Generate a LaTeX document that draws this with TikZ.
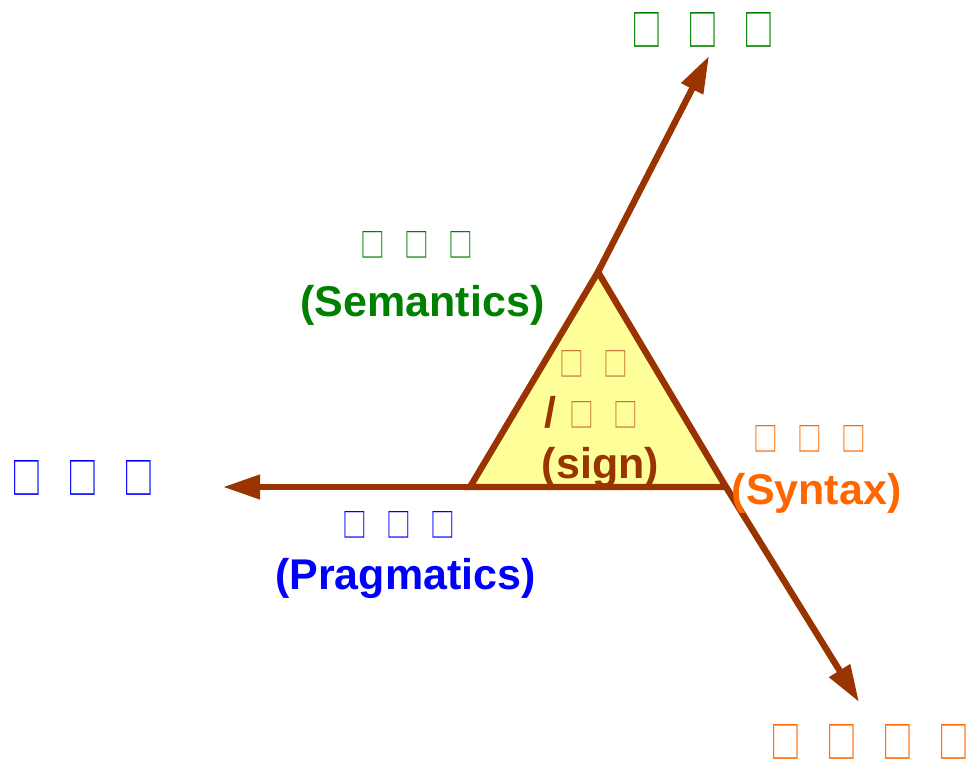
\documentclass[tikz,border=0pt]{standalone}
\usepackage{fontspec}
\setmainfont{Liberation Sans}
\newfontfamily\cjkbox{Noto Sans CJK SC}
\usepackage{graphicx}
\usetikzlibrary{arrows.meta}
\definecolor{sbrown}{HTML}{993300}
\definecolor{sfill}{HTML}{FFFF99}
\definecolor{sgreen}{HTML}{008000}
\definecolor{sblue}{HTML}{0000FF}
\definecolor{sorange}{HTML}{FF6600}
\definecolor{stan}{HTML}{C8773A}
\newcommand\tf[2]{\resizebox{#1}{#2}{\cjkbox □}}
\newcommand\bigtf{\tf{23pt}{25.5pt}}
\newcommand\smalltf{\tf{18.5pt}{19.5pt}}
\tikzset{
  lbl/.style={inner sep=0pt, anchor=base, font=\fontsize{32.25}{38}\selectfont\bfseries},
  tofu/.style={inner sep=0pt, anchor=center},
  axis/.style={draw=sbrown, line width=4.8pt, -{Triangle[length=27.75pt,width=17.5pt]}},
}
\begin{document}
\begin{tikzpicture}[x=0.75pt,y=-0.75pt]
\useasboundingbox (0,0) rectangle (973,763);
% triangle corners and arrow ends
\coordinate (A) at (598,272);
\coordinate (L) at (470,487);
\coordinate (R) at (726,487);
\coordinate (TT) at (709,56);
\coordinate (TL) at (223,487);
\coordinate (TB) at (859,702);
\draw[sbrown, line width=4.8pt, fill=sfill, line join=miter] (A) -- (L) -- (R) -- cycle;
\draw[axis] (A) -- (TT);
\draw[axis] (L) -- (TL);
\draw[axis] (R) -- (TB);
% labels
\node[tofu, text=sgreen] (semz) at (416.5,245) {\smalltf\hspace{14.5pt}\smalltf\hspace{14.5pt}\smalltf};
\node[lbl, text=sgreen] (sem) at (422.5,316) {(Semantics)};
\node[tofu, text=sblue] (prgz) at (399,525) {\smalltf\hspace{14.5pt}\smalltf\hspace{14.5pt}\smalltf};
\node[lbl, text=sblue] (prg) at (405.5,589) {(Pragmatics)};
\node[tofu, text=sorange] (synz) at (810,439) {\smalltf\hspace{14.5pt}\smalltf\hspace{14.5pt}\smalltf};
\node[lbl, text=sorange] (syn) at (816.5,504) {(Syntax)};
\node[tofu, text=stan] (sgz1) at (593.5,363.5) {\smalltf\hspace{14.5pt}\smalltf};
\node[lbl, text=sbrown] (slash) at (550,427) {/};
\node[tofu, text=stan] (sgz2) at (604,414.5) {\smalltf\hspace{14.5pt}\smalltf};
\node[lbl, text=sbrown] (sign) at (600.5,478) {(sign)};
% outer labels
\node[tofu, text=sgreen] (top) at (702.5,30) {\bigtf\hspace{19pt}\bigtf\hspace{19pt}\bigtf};
\node[tofu, text=sblue] (left) at (83,477.5) {\bigtf\hspace{19pt}\bigtf\hspace{19pt}\bigtf};
\node[tofu, text=sorange] (bot) at (870,742) {\bigtf\hspace{19pt}\bigtf\hspace{19pt}\bigtf\hspace{19pt}\bigtf};
\end{tikzpicture}
\end{document}
